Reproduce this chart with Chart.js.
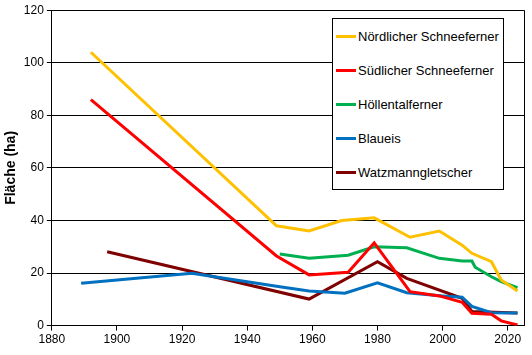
<!DOCTYPE html>
<html>
<head>
<meta charset="utf-8">
<script src="https://cdn.jsdelivr.net/npm/chart.js@4/dist/chart.umd.min.js"></script>
<style>
  html, body { margin: 0; padding: 0; background: #fff; }
  #wrap { position: relative; width: 532px; height: 355px; }
  #legend {
    position: absolute; left: 332px; top: 18px; width: 170px;
    border: 1px solid #000; background: #fff;
    font-family: "Liberation Sans", Arial, sans-serif; font-size: 13px; color: #000;
  }
  .row { height: 34px; display: flex; align-items: center; }
  .sw { width: 20px; height: 3px; margin-left: 3px; margin-right: 2px; }
</style>
</head>
<body>
<div id="wrap">
  <canvas id="c" width="532" height="355"></canvas>
  <div id="legend"></div>
</div>
<script>
const seriesNames = ["Nördlicher Schneeferner", "Südlicher Schneeferner", "Höllentalferner", "Blaueis", "Watzmanngletscher"];

const nordYears = [1892, 1949, 1959, 1969, 1979, 1990, 1999, 2006, 2009, 2015, 2018, 2023];
const nordVals  = [104, 38, 36, 40, 41, 33.6, 36, 30.6, 27.5, 24.3, 17.4, 13.2];

const sudYears = [1892, 1949, 1959, 1971, 1979, 1990, 1999, 2006, 2009, 2015, 2018, 2023];
const sudVals  = [86, 26.5, 19.3, 20.3, 31.5, 12.9, 11.3, 8.9, 4.7, 4.3, 1.8, 0.2];

const hollYears = [1950, 1959, 1971, 1979, 1989, 1999, 2006, 2009, 2010, 2015, 2018, 2023];
const hollVals  = [27.2, 25.6, 26.8, 30, 29.6, 25.6, 24.6, 24.6, 22.2, 18.6, 16.7, 14.4];

const blauYears = [1889, 1923, 1950, 1959, 1970, 1980, 1989, 2000, 2006, 2009, 2015, 2023];
const blauVals  = [16.1, 19.9, 14.8, 13.2, 12.3, 16.3, 12.5, 11.3, 10.8, 7.3, 4.9, 4.8];

const watzYears = [1897, 1959, 1980, 1989, 2006, 2009, 2023];
const watzVals  = [28.1, 10.1, 24.3, 18, 10.4, 5.4, 4.8];

const xTicks = [1880, 1900, 1920, 1940, 1960, 1980, 2000, 2020];
const yTicks = [0, 20, 40, 60, 80, 100, 120];

const colors = ["#FFC000", "#FF0000", "#00B050", "#0070C0", "#7F0000"];
const yearsList = [nordYears, sudYears, hollYears, blauYears, watzYears];
const valsList = [nordVals, sudVals, hollVals, blauVals, watzVals];

const FONT = "'Liberation Sans', Arial, sans-serif";

const datasets = seriesNames.map((name, i) => ({
  label: name,
  data: yearsList[i].map((yr, j) => ({ x: yr, y: valsList[i][j] })),
  borderColor: colors[i],
  backgroundColor: colors[i],
  borderWidth: 3,
  pointRadius: 0,
  tension: 0,
  fill: false
}));

const frame = {
  id: 'frame',
  afterDraw(chart) {
    const a = chart.chartArea, ctx = chart.ctx;
    ctx.save();
    ctx.strokeStyle = '#000';
    ctx.lineWidth = 1;
    ctx.beginPath();
    ctx.moveTo(Math.round(a.right) + 0.5, a.top);
    ctx.lineTo(Math.round(a.right) + 0.5, a.bottom);
    ctx.stroke();
    ctx.restore();
  }
};

new Chart(document.getElementById('c'), {
  type: 'line',
  data: { datasets },
  plugins: [frame],
  options: {
    responsive: false,
    animation: false,
    devicePixelRatio: 1,
    layout: { padding: { left: 3, right: 8, top: 3, bottom: 6 } },
    plugins: { legend: { display: false }, tooltip: { enabled: false } },
    scales: {
      x: {
        type: 'linear', min: 1880, max: 2025,
        afterBuildTicks: (axis) => { axis.ticks = xTicks.map(v => ({ value: v })); },
        grid: { drawOnChartArea: false, drawTicks: true, tickLength: 5, color: '#000' },
        border: { color: '#000', width: 1 },
        ticks: { font: { family: FONT, size: 12 }, color: '#000', padding: 2, maxRotation: 0, autoSkip: false,
                 callback: (v) => String(v) }
      },
      y: {
        min: 0, max: 120,
        afterBuildTicks: (axis) => { axis.ticks = yTicks.map(v => ({ value: v })); },
        grid: { color: '#000', tickLength: 5, drawTicks: true },
        border: { color: '#000', width: 1 },
        ticks: { font: { family: FONT, size: 12 }, color: '#000', padding: 3 },
        title: { display: true, text: 'Fläche (ha)', font: { family: FONT, size: 14, weight: 'bold' }, color: '#000', padding: { top: 0, bottom: 1 } }
      }
    }
  }
});

const leg = document.getElementById('legend');
seriesNames.forEach((name, i) => {
  const row = document.createElement('div');
  row.className = 'row';
  const sw = document.createElement('span');
  sw.className = 'sw';
  sw.style.background = colors[i];
  const t = document.createElement('span');
  t.textContent = name;
  row.appendChild(sw);
  row.appendChild(t);
  leg.appendChild(row);
});
</script>
</body>
</html>
